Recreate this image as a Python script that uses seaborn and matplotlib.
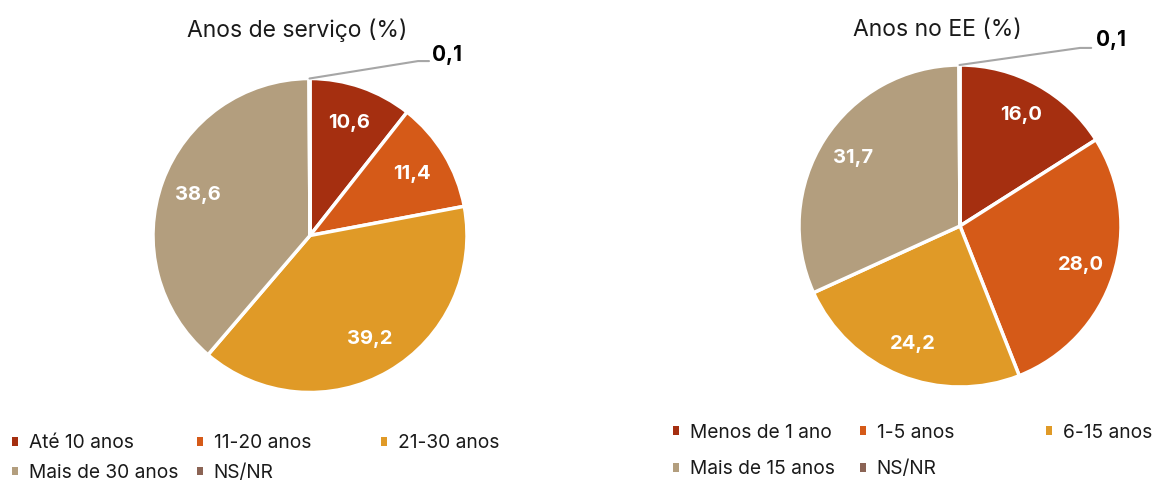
import numpy as np
import matplotlib
matplotlib.use("Agg")
import matplotlib.pyplot as plt
import matplotlib.patches as mpatches
import seaborn as sns

sns.set_theme(style="white")
plt.rcParams['font.family'] = ['Inter', 'DejaVu Sans']

# ---- data ----
left_title = "Anos de serviço (%)"
left_categories = ["Até 10 anos", "11-20 anos", "21-30 anos", "Mais de 30 anos", "NS/NR"]
left_values = [10.6, 11.4, 39.2, 38.6, 0.1]

right_title = "Anos no EE (%)"
right_categories = ["Menos de 1 ano", "1-5 anos", "6-15 anos", "Mais de 15 anos", "NS/NR"]
right_values = [16.0, 28.0, 24.2, 31.7, 0.1]

colors = sns.color_palette(["#A52F10", "#D55A18", "#E09A27", "#B39E7E", "#8B6455"])

W, H = 1152, 482
fig = plt.figure(figsize=(W / 100, H / 100), dpi=100)


def fmt(v):
    return f"{v:.1f}".replace(".", ",")


def draw_pie(cx, cy, r, values, label_dist, elbow, text_pos, title, title_xy):
    ax = fig.add_axes([(cx - r) / W, (H - cy - r) / H, 2 * r / W, 2 * r / H])
    wedges, _ = ax.pie(values, colors=colors, startangle=90, counterclock=False,
                       radius=1.0, wedgeprops=dict(edgecolor="white", linewidth=2.5))
    ax.set_xlim(-1, 1)
    ax.set_ylim(-1, 1)
    ax.set_aspect("equal")
    ax.axis("off")
    for w, v in zip(wedges[:-1], values[:-1]):
        ang = np.deg2rad((w.theta1 + w.theta2) / 2)
        ax.text(label_dist * np.cos(ang), label_dist * np.sin(ang), fmt(v),
                ha="center", va="center", color="white", fontsize=14.5, fontweight="bold")
    # small slice leader
    w = wedges[-1]
    ang = np.deg2rad((w.theta1 + w.theta2) / 2)
    sx, sy = np.cos(ang), np.sin(ang)
    ex, ey = elbow
    ax.plot([sx, ex, ex + 0.07], [sy, ey, ey], color="#A6A6A6", lw=1.5, clip_on=False)
    ax.text(text_pos[0], text_pos[1], fmt(values[-1]), ha="left", va="center",
            fontsize=15, fontweight="bold", color="black", clip_on=False)
    fig.text(title_xy[0] / W, 1 - title_xy[1] / H, title, ha="center", va="center",
             fontsize=16.5, color="#1a1a1a")
    return ax


draw_pie(310, 235.5, 157, left_values, 0.76, (0.688, 1.111), (0.775, 1.150),
         left_title, (297, 30))
draw_pie(960, 226, 161, right_values, 0.79, (0.745, 1.106), (0.845, 1.155),
         right_title, (937, 30))


def column_legends(categories, col_x, row_y, row_gap):
    fs = 13.8
    fs_px = fs * 100 / 72
    spacing = row_gap / fs_px - 1.0
    n_cols = len(col_x)
    for c in range(n_cols):
        idx = list(range(c, len(categories), n_cols))
        handles = [mpatches.Patch(facecolor=colors[i], edgecolor="none") for i in idx]
        labels = [categories[i] for i in idx]
        fig.legend(handles, labels, loc="upper left",
                   bbox_to_anchor=(col_x[c] / W, 1 - (row_y - fs_px * 0.6) / H),
                   frameon=False, fontsize=fs, handlelength=0.33, handleheight=0.33,
                   handletextpad=0.55, labelspacing=spacing, borderpad=0,
                   borderaxespad=0, labelcolor="#1a1a1a")


column_legends(left_categories, [12, 197, 381], 446, 30.5)
column_legends(right_categories, [673, 860, 1046], 435, 38)

fig.savefig("out.png", dpi=100)
